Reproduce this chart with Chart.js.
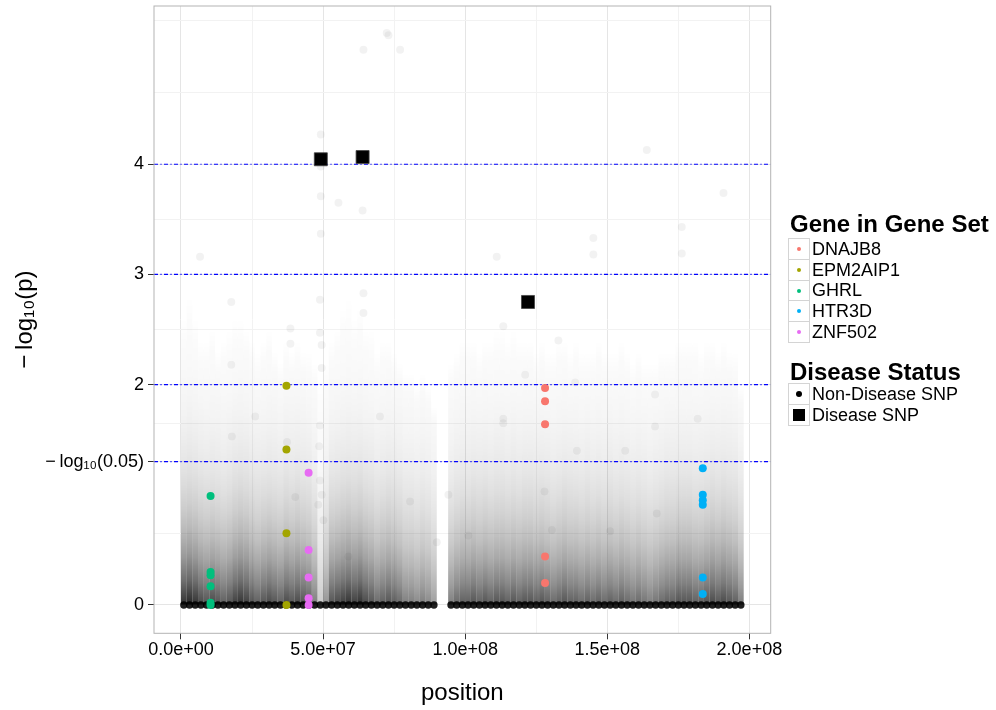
<!DOCTYPE html>
<html lang="en">
<head>
<meta charset="UTF-8">
<title>Gene set SNP plot</title>
<style>
  body { margin: 0; padding: 0; background: #fff; font-family: "Liberation Sans", Arial, Helvetica, sans-serif; }
  #wrap { position: relative; width: 996px; height: 710px; }
  canvas { position: absolute; left: 0; top: 0; }
  .lg-title { position: absolute; left: 790px; font-weight: bold; font-size: 24px; line-height: 24px; color: #000; white-space: nowrap; }
  .lg-key { position: absolute; left: 788px; width: 22px; height: 22px; box-sizing: border-box; border: 1px solid #d4d4d4; background: #fff; display: flex; align-items: center; justify-content: center; }
  .lg-label { position: absolute; left: 812px; font-size: 18px; line-height: 21px; height: 21px; color: #000; white-space: nowrap; }
</style>
<script src="https://cdn.jsdelivr.net/npm/chart.js"></script>
</head>
<body>
<div id="wrap">
  <canvas id="chart" width="996" height="710"></canvas>
  <div id="legend"></div>
</div>
<script>
// --- data (positions in Mb, values are -log10(p)) ---
const geneNames = ['DNAJB8', 'EPM2AIP1', 'GHRL', 'HTR3D', 'ZNF502'];
const geneColors = ['#F8766D', '#A3A500', '#00BF7D', '#00B0F6', '#E76BF3'];
const genePos = [128.1, 37.1, 10.4, 183.6, 44.9];
const dnajb8Y = [1.97, 1.85, 1.64, 0.44, 0.20];
const epm2aip1Y = [1.99, 1.41, 0.65, 0.0];
const ghrlY = [0.99, 0.30, 0.27, 0.17, 0.02, 0.0];
const htr3dY = [1.24, 1.00, 0.95, 0.91, 0.25, 0.10];
const znf502Y = [1.20, 0.50, 0.25, 0.06, 0.0];
const geneY = [dnajb8Y, epm2aip1Y, ghrlY, htr3dY, znf502Y];

const diseasePos = [49.2, 63.9, 122.1];
const diseaseY = [4.045, 4.065, 2.75];

// background SNP cloud, summarised per 2 Mb column
const cloudPos = [1, 3, 5, 7, 9, 11, 13, 15, 17, 19, 21, 23, 25, 27, 29, 31, 33, 35, 37, 39,
  41, 43, 45, 47, 49, 51, 53, 55, 57, 59, 61, 63, 65, 67, 69, 71, 73, 75, 77, 79,
  81, 83, 85, 87, 89, 95, 97, 99, 101, 103, 105, 107, 109, 111, 113, 115, 117, 119, 121, 123,
  125, 127, 129, 131, 133, 135, 137, 139, 141, 143, 145, 147, 149, 151, 153, 155, 157, 159, 161, 163,
  165, 167, 169, 171, 173, 175, 177, 179, 181, 183, 185, 187, 189, 191, 193, 195, 197];
const cloudTop = [2.6, 2.8, 2.6, 2.4, 2.4, 2.5, 2.3, 2.4, 2.5, 2.6, 2.6, 2.5, 2.4, 2.3, 2.4, 2.5, 2.3, 2.2, 2.4, 2.3,
  2.4, 2.3, 2.3, 2.2, 2.0, 2.2, 2.4, 2.5, 2.7, 2.8, 2.6, 2.7, 2.5, 2.5, 2.3, 2.4, 2.4, 2.3, 2.2, 2.1,
  2.1, 2.0, 2.1, 2.0, 1.8, 2.2, 2.3, 2.4, 2.4, 2.4, 2.3, 2.4, 2.4, 2.5, 2.5, 2.4, 2.5, 2.4, 2.4, 2.4,
  2.3, 2.4, 2.3, 2.3, 2.4, 2.4, 2.3, 2.4, 2.3, 2.3, 2.3, 2.4, 2.3, 2.3, 2.3, 2.4, 2.3, 2.2, 2.3, 2.2,
  2.2, 2.2, 2.3, 2.3, 2.3, 2.4, 2.4, 2.4, 2.4, 2.3, 2.4, 2.4, 2.3, 2.4, 2.3, 2.3, 2.0];
const cloudDens = [0.95, 1.0, 0.95, 0.85, 0.8, 0.85, 0.8, 0.75, 0.8, 0.9, 0.95, 0.9, 0.8, 0.75, 0.8, 0.85, 0.8, 0.75, 0.85, 0.8,
  0.85, 0.8, 0.75, 0.6, 0.25, 0.5, 0.8, 0.85, 0.9, 0.95, 0.9, 0.95, 0.85, 0.8, 0.7, 0.75, 0.8, 0.75, 0.7, 0.6,
  0.6, 0.55, 0.6, 0.55, 0.45, 0.6, 0.7, 0.75, 0.75, 0.8, 0.75, 0.8, 0.75, 0.8, 0.8, 0.75, 0.8, 0.75, 0.8, 0.8,
  0.75, 0.8, 0.75, 0.7, 0.75, 0.8, 0.75, 0.75, 0.7, 0.75, 0.7, 0.75, 0.7, 0.75, 0.7, 0.75, 0.7, 0.65, 0.7, 0.65,
  0.6, 0.65, 0.7, 0.75, 0.75, 0.8, 0.8, 0.8, 0.75, 0.75, 0.8, 0.85, 0.8, 0.85, 0.8, 0.75, 0.6];

// isolated faint SNPs standing out from the cloud
const strayPos = [17.7, 17.7, 26.1, 17.9, 37.3, 40.2, 38.5, 38.5, 48.9, 49.5, 49.5, 48.9, 48.6, 48.9, 49.5, 48.3, 50.1,
  80.6, 90.0, 94.1, 58.9, 70.0, 64.2, 64.2, 113.4, 113.4, 113.4, 132.8, 138.7, 121.1, 127.9, 139.3, 101.1, 130.5,
  167.4, 156.3, 166.8, 181.8, 166.8, 151.0, 145.1, 145.1, 176.2, 176.2, 111.1, 77.1, 73.0, 190.9, 163.9,
  49.2, 49.2, 49.2, 49.2, 55.4, 63.9, 6.7, 72.4, 64.2, 48.9];
const strayY = [2.75, 2.18, 1.71, 1.53, 1.48, 0.98, 2.51, 2.37, 2.47, 2.36, 2.15, 1.63, 1.44, 1.13, 1.00, 0.91, 0.77,
  0.94, 0.57, 1.00, 0.44, 1.71, 2.83, 2.65, 2.53, 1.69, 1.65, 2.40, 2.02, 2.09, 1.03, 1.40, 0.63, 0.68,
  0.83, 1.40, 1.62, 1.69, 1.91, 0.67, 3.33, 3.18, 3.43, 3.19, 3.16, 5.04, 5.17, 3.74, 4.13,
  4.27, 3.98, 3.71, 3.37, 3.65, 3.58, 3.16, 5.19, 5.04, 2.77];

const hLines = [4, 3, 2, 1.30103];
const yBreaks = [0, 1.30103, 2, 3, 4];
const yLabels = ['0', '\u2212\u2009log\u2081\u2080(0.05)', '2', '3', '4'];
const yMinor = [0.650515, 1.650515, 2.5, 3.5, 4.650515, 5.30103];
const xBreaks = [0, 5e7, 1e8, 1.5e8, 2e8];
const xMinor = [2.5e7, 7.5e7, 1.25e8, 1.75e8];
const statusNames = ['Non-Disease SNP', 'Disease SNP'];

const MB = 1e6;
const isMajor = (v, list) => list.some(b => Math.abs(b - v) < 1e-6 * Math.max(1, Math.abs(b)));
const tickMajor = (c, list) => !!(c && c.tick) && isMajor(c.tick.value, list);
const sciLabel = v => v.toExponential(1).replace(/e([+-])(\d)$/, 'e$10$2');

// vertical fade of the SNP cloud: dark at p = 1, thinning out upwards
function cloudFill(ctx) {
  const chart = ctx.chart;
  const y = chart.scales && chart.scales.y;
  if (!chart.chartArea || !y || ctx.type !== 'data') return 'rgba(0,0,0,0.3)';
  const i = ctx.dataIndex;
  const top = cloudTop[i], dens = cloudDens[i];
  const p0 = y.getPixelForValue(0), p1 = y.getPixelForValue(top);
  if (!isFinite(p0) || !isFinite(p1) || p0 === p1) return 'rgba(0,0,0,0.3)';
  const g = chart.ctx.createLinearGradient(0, p0, 0, p1);
  for (let k = 0; k <= 12; k++) {
    const t = k / 12;
    const a = k === 12 ? 0 : dens * 0.85 * Math.exp(-t * top / 0.62);
    g.addColorStop(t, 'rgba(0,0,0,' + a.toFixed(3) + ')');
  }
  return g;
}

const datasets = [
  {
    type: 'bar', label: 'cloud',
    data: cloudPos.map((p, i) => ({ x: p * MB, y: cloudTop[i] })),
    backgroundColor: cloudFill, borderWidth: 0, inflateAmount: 0,
    barPercentage: 1, categoryPercentage: 1, grouped: false, order: 10
  },
  {
    label: 'stray',
    data: strayPos.map((p, i) => ({ x: p * MB, y: strayY[i] })),
    pointRadius: 4, backgroundColor: 'rgba(0,0,0,0.05)', borderWidth: 0, order: 9
  },
  {
    label: 'band',
    data: cloudPos.map(p => ({ x: p * MB, y: 0 })),
    pointRadius: 3.7, backgroundColor: 'rgba(0,0,0,0.88)', borderWidth: 0, order: 8
  }
];
geneNames.forEach((name, g) => {
  datasets.push({
    label: name,
    data: geneY[g].map(v => ({ x: genePos[g] * MB, y: v })),
    pointRadius: 4, backgroundColor: geneColors[g], borderWidth: 0, order: 2
  });
});
datasets.push({
  label: 'Disease SNP',
  data: diseasePos.map((p, i) => ({ x: p * MB, y: diseaseY[i] })),
  pointStyle: 'rect', pointRadius: 9.2, backgroundColor: '#000', borderColor: '#444', borderWidth: 0.8, order: 1
});

const thresholdLines = {
  id: 'thresholdLines',
  afterDatasetDraw(chart, args) {
    if (args.index !== 2) return;
    const { ctx, chartArea, scales } = chart;
    ctx.save();
    ctx.strokeStyle = '#0000ff';
    ctx.lineWidth = 1.1;
    ctx.setLineDash([4, 2.4, 1.2, 2.4]);
    hLines.forEach(v => {
      const py = scales.y.getPixelForValue(v);
      ctx.beginPath();
      ctx.moveTo(chartArea.left, py);
      ctx.lineTo(chartArea.right, py);
      ctx.stroke();
    });
    ctx.restore();
  }
};

const panelBorder = {
  id: 'panelBorder',
  afterDraw(chart) {
    const { ctx, chartArea: a } = chart;
    ctx.save();
    ctx.strokeStyle = '#b3b3b3';
    ctx.lineWidth = 1;
    ctx.strokeRect(a.left, a.top, a.right - a.left, a.bottom - a.top);
    ctx.restore();
  }
};

const font = '"Liberation Sans", Arial, Helvetica, sans-serif';

// --- legend (HTML, two groups like the original) ---
const legend = document.getElementById('legend');
function addTitle(text, top) {
  const d = document.createElement('div');
  d.className = 'lg-title'; d.style.top = top + 'px'; d.textContent = text;
  legend.appendChild(d);
}
function addRow(label, top, marker) {
  const k = document.createElement('div');
  k.className = 'lg-key'; k.style.top = top + 'px';
  k.appendChild(marker);
  legend.appendChild(k);
  const l = document.createElement('div');
  l.className = 'lg-label'; l.style.top = (top + 0.5) + 'px'; l.textContent = label;
  legend.appendChild(l);
}
function marker(size, color, round) {
  const m = document.createElement('div');
  m.style.width = size + 'px'; m.style.height = size + 'px';
  m.style.background = color;
  if (round) m.style.borderRadius = '50%';
  return m;
}
addTitle('Gene in Gene Set', 212);
geneNames.forEach((n, i) => addRow(n, 238.3 + i * 20.7, marker(4, geneColors[i], true)));
addTitle('Disease Status', 359.7);
addRow(statusNames[0], 383.3, marker(6, '#000', true));
addRow(statusNames[1], 404, marker(12, '#000', false));

new Chart(document.getElementById('chart').getContext('2d'), {
  type: 'scatter',
  data: { datasets },
  plugins: [thresholdLines, panelBorder],
  options: {
    responsive: false,
    animation: false,
    devicePixelRatio: 1,
    layout: { autoPadding: false, padding: { top: 6, right: 225.3, left: 0, bottom: 0 } },
    plugins: { legend: { display: false }, tooltip: { enabled: false } },
    scales: {
      x: {
        type: 'linear', min: -9.5e6, max: 207.5e6, offset: false,
        afterBuildTicks: s => { s.ticks = xBreaks.concat(xMinor).sort((a, b) => a - b).map(v => ({ value: v })); },
        afterFit: s => { s.height = 76.7; s.paddingLeft = 0; s.paddingRight = 0; },
        ticks: {
          autoSkip: false, maxRotation: 0, padding: 0, color: '#000',
          font: { family: font, size: 18 },
          callback: v => isMajor(v, xBreaks) ? sciLabel(v) : ''
        },
        grid: {
          offset: false,
          color: c => tickMajor(c, xBreaks) ? '#e5e5e5' : '#f2f2f2',
          tickColor: c => tickMajor(c, xBreaks) ? '#333' : 'rgba(0,0,0,0)',
          tickLength: 6, lineWidth: 1
        },
        border: { display: false },
        title: { display: true, text: 'position', color: '#000', font: { family: font, size: 24 }, padding: { top: 0, bottom: 2.3 } }
      },
      y: {
        type: 'linear', min: -0.257, max: 5.436,
        afterBuildTicks: s => { s.ticks = yBreaks.concat(yMinor).sort((a, b) => a - b).map(v => ({ value: v })); },
        afterFit: s => { s.width = 154; s.paddingTop = 0; s.paddingBottom = 0; },
        ticks: {
          autoSkip: false, padding: 4, color: '#000',
          font: { family: font, size: 18 },
          callback: v => {
            const i = yBreaks.findIndex(b => Math.abs(b - v) < 1e-6);
            return i >= 0 ? yLabels[i] : '';
          }
        },
        grid: {
          color: c => tickMajor(c, yBreaks) ? '#e5e5e5' : '#f2f2f2',
          tickColor: c => tickMajor(c, yBreaks) ? '#333' : 'rgba(0,0,0,0)',
          tickLength: 6, lineWidth: 1
        },
        border: { display: false },
        title: { display: true, text: '\u2212\u2009log\u2081\u2080(p)', color: '#000', font: { family: font, size: 24 }, padding: { top: 10.6, bottom: 0 } }
      }
    }
  }
});
</script>
</body>
</html>
